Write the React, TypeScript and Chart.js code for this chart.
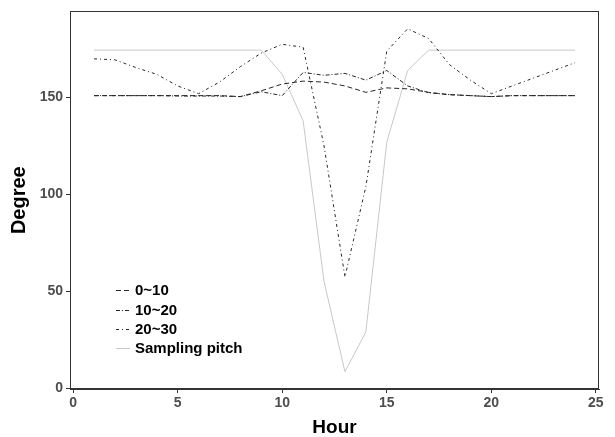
import React, { useEffect, useRef } from "react";
import { Chart, registerables } from "chart.js";

Chart.register(...registerables);

const hours = [1, 2, 3, 4, 5, 6, 7, 8, 9, 10, 11, 12, 13, 14, 15, 16, 17, 18, 19, 20, 21, 22, 23, 24];
const deg0to10 = [151, 151, 151, 151, 151, 151, 151, 150.5, 153.5, 157, 158.5, 158, 156, 152.7, 155, 154.5, 152.7, 151.5, 151, 150.5, 151, 151, 151, 151];
const deg10to20 = [151, 151, 151, 151, 150.8, 150.8, 150.8, 150.5, 153, 151, 163, 161.5, 162.5, 159, 164, 156, 152.5, 151.5, 151, 150.5, 151, 151, 151, 151];
const deg20to30 = [170, 169.5, 165.5, 162, 156, 152, 158, 166, 173, 177.5, 176, 125, 57.4, 104, 174, 185.5, 180.5, 167, 159, 152, 156, 160, 164, 168];
const samplingPitch = [174.5, 174.5, 174.5, 174.5, 174.5, 174.5, 174.5, 174.5, 174.5, 162, 138, 55, 8.4, 29, 127, 164, 174.5, 174.5, 174.5, 174.5, 174.5, 174.5, 174.5, 174.5];

const seriesLabels = ["0~10", "10~20", "20~30", "Sampling pitch"];
const xTicks = [0, 5, 10, 15, 20, 25];
const yTicks = [0, 50, 100, 150];

const FONT = "'Liberation Sans', Arial, sans-serif";

const toPoints = (vals: number[]) => hours.map((h, i) => ({ x: h, y: vals[i] }));

const frameAndLegend = {
  id: "frameAndLegend",
  afterDraw(chart: any) {
    const { ctx, chartArea } = chart;
    ctx.save();
    ctx.strokeStyle = "#333333";
    ctx.lineWidth = 1;
    ctx.setLineDash([]);
    ctx.strokeRect(
      Math.round(chartArea.left) + 0.5,
      Math.round(chartArea.top) + 0.5,
      Math.round(chartArea.right - chartArea.left) - 1,
      Math.round(chartArea.bottom - chartArea.top) - 1
    );
    // legend
    const rows = [290, 309.5, 328.5, 347.5];
    chart.data.datasets.forEach((ds: any, i: number) => {
      const y = Math.round(rows[i]) + 0.5;
      ctx.beginPath();
      ctx.strokeStyle = ds.borderColor;
      ctx.lineWidth = ds.borderWidth;
      ctx.setLineDash(ds.borderDash || []);
      ctx.moveTo(116, y);
      ctx.lineTo(130, y);
      ctx.stroke();
      ctx.setLineDash([]);
      ctx.fillStyle = "#000000";
      ctx.font = `bold 15px ${FONT}`;
      ctx.textAlign = "left";
      ctx.textBaseline = "middle";
      ctx.fillText(ds.label, 135, rows[i] + 1);
    });
    ctx.restore();
  },
};

export default function App() {
  const ref = useRef<HTMLCanvasElement | null>(null);

  useEffect(() => {
    if (!ref.current) return;
    const chart = new Chart(ref.current, {
      type: "line",
      data: {
        datasets: [
          {
            label: seriesLabels[0],
            data: toPoints(deg0to10),
            borderColor: "#262626",
            borderWidth: 1,
            borderDash: [5, 3],
            pointRadius: 0,
            fill: false,
          },
          {
            label: seriesLabels[1],
            data: toPoints(deg10to20),
            borderColor: "#262626",
            borderWidth: 1,
            borderDash: [4, 2, 1, 2],
            pointRadius: 0,
            fill: false,
          },
          {
            label: seriesLabels[2],
            data: toPoints(deg20to30),
            borderColor: "#262626",
            borderWidth: 1,
            borderDash: [3, 3, 1, 3],
            pointRadius: 0,
            fill: false,
          },
          {
            label: seriesLabels[3],
            data: toPoints(samplingPitch),
            borderColor: "#c8c8c8",
            borderWidth: 1,
            pointRadius: 0,
            fill: false,
          },
        ],
      },
      options: {
        animation: false,
        responsive: false,
        maintainAspectRatio: false,
        layout: { padding: { left: 0, top: 10, right: 16, bottom: 0 } },
        plugins: { legend: { display: false }, tooltip: { enabled: false } },
        scales: {
          x: {
            type: "linear",
            min: -0.15,
            max: 25.15,
            afterBuildTicks: (scale: any) => {
              scale.ticks = xTicks.map((v) => ({ value: v }));
            },
            afterFit: (scale: any) => {
              scale.height = 48;
            },
            grid: { drawOnChartArea: false, drawTicks: true, tickLength: 4, color: "#333333" },
            border: { display: true, color: "#333333", width: 1 },
            ticks: {
              color: "#4d4d4d",
              font: { family: FONT, size: 14, weight: "bold" },
              padding: 2,
              maxRotation: 0,
              autoSkip: false,
            },
            title: {
              display: true,
              text: "Hour",
              color: "#000000",
              font: { family: FONT, size: 19, weight: "bold", lineHeight: 1 },
              padding: { top: 0, bottom: 0 },
            },
          },
          y: {
            type: "linear",
            min: -0.5,
            max: 194.5,
            afterBuildTicks: (scale: any) => {
              scale.ticks = yTicks.map((v) => ({ value: v }));
            },
            afterFit: (scale: any) => {
              scale.width = 70;
            },
            grid: { drawOnChartArea: false, drawTicks: true, tickLength: 4, color: "#333333" },
            border: { display: true, color: "#333333", width: 1 },
            ticks: {
              color: "#4d4d4d",
              font: { family: FONT, size: 14, weight: "bold" },
              padding: 3,
              autoSkip: false,
            },
            title: {
              display: true,
              text: "Degree",
              color: "#000000",
              font: { family: FONT, size: 20, weight: "bold", lineHeight: 1 },
              padding: { top: 9, bottom: 0 },
            },
          },
        },
      },
      plugins: [frameAndLegend],
    });
    return () => chart.destroy();
  }, []);

  return (
    <div style={{ position: "fixed", left: 0, top: 0, width: 615, height: 437, background: "#ffffff" }}>
      <canvas ref={ref} width={615} height={437} style={{ width: 615, height: 437, display: "block" }} />
    </div>
  );
}
